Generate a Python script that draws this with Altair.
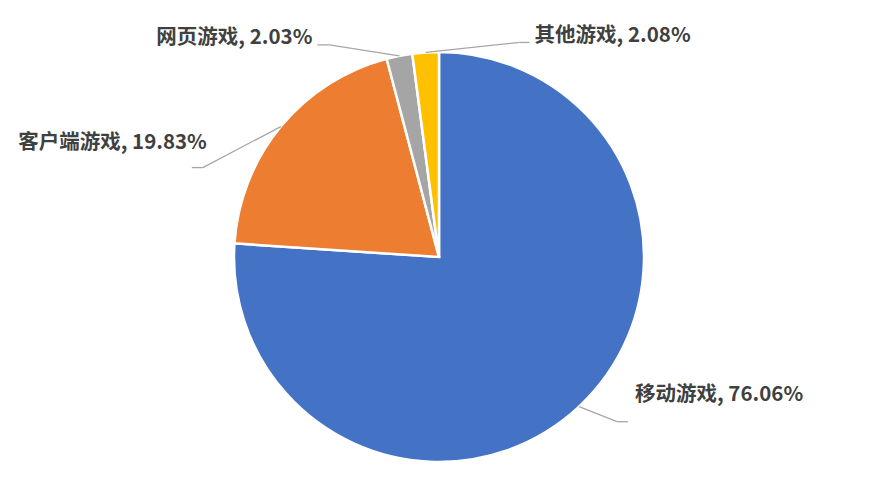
import altair as alt
import numpy as np
import pandas as pd

# ---- data ----
categories = ["移动游戏", "客户端游戏", "网页游戏", "其他游戏"]
shares = [76.06, 19.83, 2.03, 2.08]
colors = ["#4472C4", "#ED7D31", "#A5A5A5", "#FFC000"]

# ---- layout ----
W, H = 860, 481
CX, CY, R = 431, 249, 205
# elbow offset from slice edge, horizontal tail length, text offset from tail end, alignment
LAYOUT = {
    "移动游戏": dict(elbow=(38, 15), tail=11, text=(7, -27), align="left"),
    "客户端游戏": dict(elbow=(-78, 41), tail=-11, text=(15, -25), align="right"),
    "网页游戏": dict(elbow=(-70, -11), tail=-12, text=(-5, -7), align="right"),
    "其他游戏": dict(elbow=(94, -10), tail=10, text=(5, -6), align="left"),
}

vals = np.array(shares, dtype=float)
frac = vals / vals.sum()
cum = np.cumsum(frac)
mid = (cum - frac / 2) * 2 * np.pi

rows = []
for i, c in enumerate(categories):
    lay = LAYOUT[c]
    sx = CX + R * np.sin(mid[i])
    sy = CY - R * np.cos(mid[i])
    bx = sx + lay["elbow"][0]
    by = sy + lay["elbow"][1]
    ex = bx + lay["tail"]
    ey = by
    rows.append(dict(
        idx=i, cat=c, share=shares[i],
        label=f"{c}, {shares[i]:.2f}%",
        sx=sx, sy=sy, bx=bx, by=by, ex=ex, ey=ey,
        tx=ex + lay["text"][0], ty=ey + lay["text"][1],
        align=lay["align"],
    ))
df = pd.DataFrame(rows)

pie = alt.Chart(df).mark_arc(outerRadius=R, stroke="white", strokeWidth=2.5).encode(
    theta=alt.Theta("share:Q", stack=True),
    order=alt.Order("idx:Q"),
    color=alt.Color("cat:N", scale=alt.Scale(domain=categories, range=colors), legend=None),
    x=alt.value(CX),
    y=alt.value(CY),
)

line_color = "#A6A6A6"
slant = alt.Chart(df).mark_rule(color=line_color, strokeWidth=1.3).encode(
    x=alt.X("sx:Q", scale=None, axis=None),
    y=alt.Y("sy:Q", scale=None, axis=None),
    x2="bx:Q",
    y2="by:Q",
)
tail = alt.Chart(df).mark_rule(color=line_color, strokeWidth=1.3).encode(
    x=alt.X("bx:Q", scale=None, axis=None),
    y=alt.Y("by:Q", scale=None, axis=None),
    x2="ex:Q",
    y2="ey:Q",
)

def text_layer(al):
    return alt.Chart(df).transform_filter(alt.datum.align == al).mark_text(
        align=al, baseline="middle", font="Noto Sans CJK SC", fontSize=20.5,
        fontWeight="bold", color="#404040",
    ).encode(
        x=alt.X("tx:Q", scale=None, axis=None),
        y=alt.Y("ty:Q", scale=None, axis=None),
        text="label:N",
    )

chart = alt.layer(pie, slant, tail, text_layer("left"), text_layer("right")).properties(
    width=W, height=H, padding=0, autosize=alt.AutoSizeParams(type="none"),
    background="white",
).configure_view(stroke=None)

chart.save("out.html", embed_options={"renderer": "svg", "actions": False})
